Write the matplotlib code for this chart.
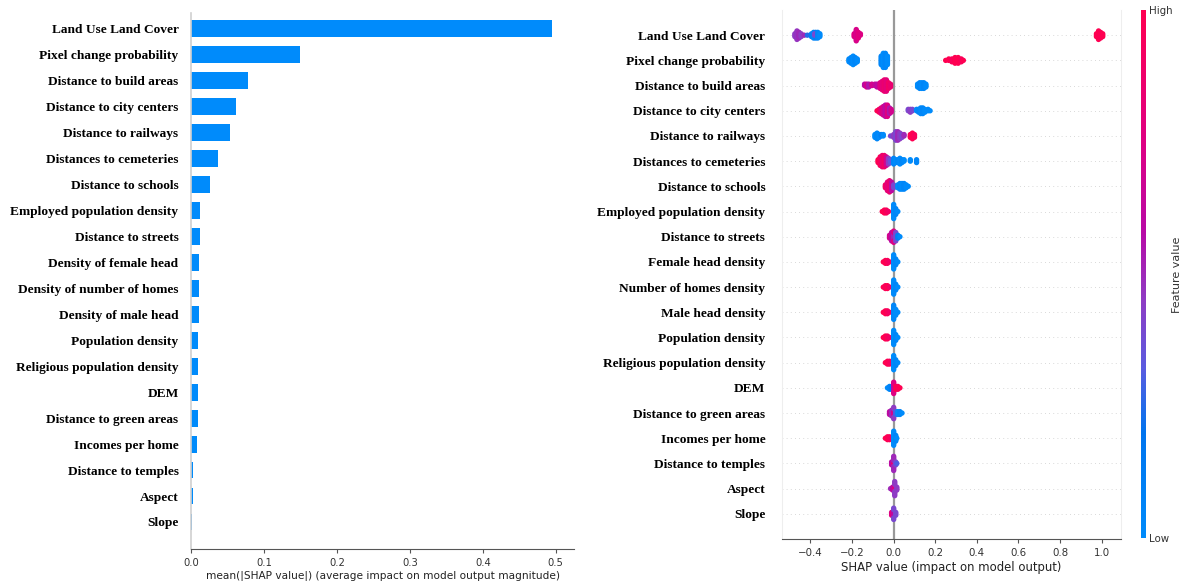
import matplotlib
matplotlib.use("Agg")
import matplotlib.pyplot as plt
import numpy as np
from matplotlib.colors import LinearSegmentedColormap
from matplotlib.cm import ScalarMappable

# ---- global importance (mean |SHAP|), top to bottom ----
bar_labels = [
    "Land Use Land Cover", "Pixel change probability", "Distance to build areas",
    "Distance to city centers", "Distance to railways", "Distances to cemeteries",
    "Distance to schools", "Employed population density", "Distance to streets",
    "Density of female head", "Density of number of homes", "Density of male head",
    "Population density", "Religious population density", "DEM",
    "Distance to green areas", "Incomes per home", "Distance to temples",
    "Aspect", "Slope",
]
mean_abs_shap = [0.495, 0.149, 0.078, 0.062, 0.054, 0.037, 0.026, 0.013, 0.013,
                 0.011, 0.011, 0.011, 0.010, 0.010, 0.0095, 0.009, 0.008,
                 0.003, 0.003, 0.002]

swarm_labels = [
    "Land Use Land Cover", "Pixel change probability", "Distance to build areas",
    "Distance to city centers", "Distance to railways", "Distances to cemeteries",
    "Distance to schools", "Employed population density", "Distance to streets",
    "Female head density", "Number of homes density", "Male head density",
    "Population density", "Religious population density", "DEM",
    "Distance to green areas", "Incomes per home", "Distance to temples",
    "Aspect", "Slope",
]

# ---- per-feature SHAP samples: (shap value, scaled feature value, n samples) ----
lulc_pts = [(-0.475, .45, 3), (-0.465, .47, 7), (-0.455, .5, 5), (-0.445, .45, 3),
            (-0.43, .5, 1), (-0.415, .25, 1), (-0.395, .1, 3), (-0.385, .05, 5),
            (-0.375, .1, 5), (-0.38, .4, 2), (-0.365, .05, 5), (-0.355, 0, 3),
            (-0.19, .75, 3), (-0.18, .72, 9), (-0.17, .78, 5), (-0.16, .75, 2),
            (0.975, 1, 3), (0.985, 1, 7), (0.995, .98, 5), (1.005, 1, 3)]
pixel_pts = [(-0.215, 0, 3), (-0.205, .05, 5), (-0.195, 0, 7), (-0.185, .05, 5),
             (-0.175, 0, 3), (-0.06, .05, 7), (-0.05, 0, 11), (-0.04, .05, 11),
             (-0.03, 0, 7), (0.25, 1, 1), (0.265, 1, 2), (0.28, .95, 3),
             (0.295, 1, 5), (0.31, 1, 5), (0.325, .95, 3), (0.335, 1, 1)]
build_pts = [(-0.14, .6, 2), (-0.13, .7, 3), (-0.12, .55, 3), (-0.105, .7, 2),
             (-0.09, .65, 2), (-0.08, .6, 3), (-0.065, .75, 5), (-0.055, .8, 7),
             (-0.045, .85, 9), (-0.035, .8, 9), (-0.025, .9, 5), (-0.015, .85, 3),
             (0.115, 0, 3), (0.125, .05, 5), (0.135, 0, 5), (0.145, .05, 5),
             (0.155, 0, 3)]
city_pts = [(-0.08, 1, 1), (-0.07, .95, 3), (-0.06, .8, 5), (-0.05, .7, 7),
            (-0.04, .6, 9), (-0.03, .75, 9), (-0.02, .55, 5), (-0.012, .7, 3),
            (0.07, .4, 2), (0.08, .45, 3), (0.09, .4, 2), (0.11, 0, 2),
            (0.12, .05, 3), (0.13, 0, 5), (0.14, .05, 5), (0.15, 0, 3),
            (0.165, 0, 2), (0.175, 0, 1)]
rail_pts = [(-0.09, 0, 3), (-0.08, .05, 5), (-0.07, 0, 3), (-0.06, .1, 2),
            (-0.05, 0, 2), (-0.015, .4, 1), (0.0, .45, 3), (0.01, .4, 7),
            (0.02, .5, 7), (0.03, .45, 5), (0.04, .4, 3), (0.05, .5, 2),
            (0.08, 1, 3), (0.09, 1, 5), (0.10, .95, 3)]
cemetery_pts = [(-0.075, 1, 3), (-0.065, .95, 7), (-0.055, .85, 9), (-0.045, .9, 9),
                (-0.035, .7, 7), (-0.025, .45, 5), (-0.015, .35, 3), (0.0, .05, 5),
                (0.01, 0, 3), (0.02, .05, 3), (0.03, 0, 5), (0.04, .05, 3),
                (0.05, 0, 2), (0.08, 0, 2), (0.11, .05, 3)]
school_pts = [(-0.04, .9, 3), (-0.03, .8, 7), (-0.02, .85, 9), (-0.01, .6, 7),
              (0.0, .4, 3), (0.02, 0, 3), (0.03, .05, 5), (0.04, 0, 5),
              (0.05, .05, 5), (0.06, 0, 3), (0.07, 0, 1)]
employed_pts = [(-0.055, 1, 1), (-0.045, 1, 3), (-0.035, .95, 3), (-0.025, .9, 1),
                (0.0, 0, 11), (0.01, .05, 5), (0.02, 0, 1)]
street_pts = [(-0.02, .7, 3), (-0.01, .6, 7), (0.0, .5, 5), (0.0, .75, 4),
              (0.01, .4, 7), (0.02, .1, 3), (0.03, 0, 1)]
female_pts = [(-0.05, 1, 1), (-0.04, 1, 3), (-0.03, .95, 3), (-0.02, .9, 1),
              (0.0, 0, 11), (0.01, .05, 5), (0.02, 0, 1)]
homes_pts = [(-0.05, 1, 1), (-0.04, .95, 3), (-0.03, 1, 3), (-0.02, .9, 1),
             (0.0, 0, 11), (0.01, .05, 5), (0.02, 0, 1)]
male_pts = [(-0.05, 1, 1), (-0.04, 1, 3), (-0.03, .95, 3), (-0.02, .9, 1),
            (0.0, .05, 11), (0.01, 0, 5), (0.02, 0, 1)]
population_pts = [(-0.05, 1, 1), (-0.04, 1, 3), (-0.03, .95, 3), (-0.02, .9, 1),
                  (0.0, 0, 11), (0.01, .05, 5), (0.02, 0, 1)]
religious_pts = [(-0.04, 1, 1), (-0.03, 1, 3), (-0.02, .95, 3), (-0.01, .9, 1),
                 (0.0, 0, 11), (0.01, .05, 5), (0.02, 0, 1)]
dem_pts = [(-0.03, 0, 1), (-0.02, .05, 3), (-0.01, .1, 3), (0.0, .6, 5),
           (0.0, .75, 4), (0.01, 1, 3), (0.02, .95, 3), (0.03, 1, 1)]
green_pts = [(-0.02, .6, 3), (-0.01, .5, 5), (0.0, .7, 5), (0.0, .45, 4),
             (0.01, .3, 3), (0.02, 0, 3), (0.03, .05, 3), (0.04, 0, 1)]
income_pts = [(-0.04, 1, 1), (-0.03, 1, 3), (-0.02, .95, 3), (-0.01, .9, 1),
              (0.0, 0, 11), (0.01, .05, 5), (0.015, 0, 1)]
temple_pts = [(-0.01, .6, 3), (0.0, .85, 3), (0.0, .5, 8), (0.01, .4, 3),
              (0.015, .3, 1)]
aspect_pts = [(-0.015, .5, 1), (-0.005, .6, 3), (0.005, .75, 4), (0.005, .45, 7),
              (0.015, .45, 3)]
slope_pts = [(-0.01, .75, 3), (0.0, .6, 5), (0.0, .4, 4), (0.01, .4, 3)]

swarm_rows = [lulc_pts, pixel_pts, build_pts, city_pts, rail_pts, cemetery_pts,
              school_pts, employed_pts, street_pts, female_pts, homes_pts, male_pts,
              population_pts, religious_pts, dem_pts, green_pts, income_pts,
              temple_pts, aspect_pts, slope_pts]

SHAP_BLUE = "#008bfb"
red_blue = LinearSegmentedColormap.from_list(
    "red_blue",
    [(0.0, "#008bfb"), (0.2, "#0074ee"), (0.32, "#5a5ce0"), (0.45, "#8e3cc4"),
     (0.58, "#b80aa6"), (0.75, "#de0083"), (1.0, "#ff0051")])

label_font = dict(family="Liberation Serif", weight="bold", size=9.6)


def swarm_offsets(xs, step=0.005, dy=0.056):
    """Stack points sharing an x bin alternately above/below the row."""
    bins = np.round(np.asarray(xs) / step).astype(int)
    out = np.zeros(len(xs))
    seen = {}
    for i, b in enumerate(bins):
        k = seen.get(b, 0)
        seen[b] = k + 1
        out[i] = ((k + 1) // 2) * (1 if k % 2 else -1) * dy
    return out


fig = plt.figure(figsize=(11.82, 5.81), dpi=100)

# ---- left: bar summary ----
ax1 = fig.add_axes([191 / 1182, 32 / 581, 383 / 1182, 536 / 581])
n = len(bar_labels)
ypos = np.arange(n)[::-1]
ax1.barh(ypos, mean_abs_shap, height=0.65, color=SHAP_BLUE, align="center")
ax1.set_xlim(0, 0.525)
ax1.set_ylim(-1.04, 19.6)
ax1.set_yticks(ypos)
ax1.set_yticklabels(bar_labels, **label_font)
ax1.tick_params(axis="y", length=0, pad=9)
ax1.set_xticks([0, 0.1, 0.2, 0.3, 0.4, 0.5])
ax1.tick_params(axis="x", labelsize=7.2, labelcolor="#333333", color="#555555",
                length=3, width=0.8)
ax1.set_xlabel("mean(|SHAP value|) (average impact on model output magnitude)",
               fontsize=7.6, color="#222222", labelpad=2)
for s in ("top", "right"):
    ax1.spines[s].set_visible(False)
ax1.spines["left"].set_color("#d0d0d0")
ax1.spines["left"].set_linewidth(1.2)
ax1.spines["bottom"].set_color("#555555")

# ---- right: beeswarm summary ----
ax2 = fig.add_axes([782 / 1182, 42 / 581, 339 / 1182, 529 / 581])
for i, pts in enumerate(swarm_rows):
    row = n - 1 - i
    xs = np.repeat([p[0] for p in pts], [p[2] for p in pts])
    fv = np.repeat([p[1] for p in pts], [p[2] for p in pts])
    ys = row + swarm_offsets(xs)
    ax2.axhline(row, color="#cccccc", lw=0.6, dashes=(1, 4), zorder=-1)
    ax2.scatter(xs, ys, c=fv, cmap=red_blue, vmin=0, vmax=1, s=15,
                linewidths=0, zorder=3)
ax2.axvline(0, color="#999999", lw=1.6, zorder=1)
ax2.set_xlim(-0.537, 1.093)
ax2.set_ylim(-1, 20)
ax2.set_yticks(ypos)
ax2.set_yticklabels(swarm_labels, **label_font)
ax2.tick_params(axis="y", length=0, pad=12)
ax2.set_xticks([-0.4, -0.2, 0.0, 0.2, 0.4, 0.6, 0.8, 1.0])
ax2.tick_params(axis="x", labelsize=7.4, labelcolor="#333333", color="#555555",
                length=3, width=0.8)
ax2.set_xlabel("SHAP value (impact on model output)", fontsize=8.4,
               color="#222222", labelpad=2)
ax2.spines["top"].set_visible(False)
for s in ("left", "right"):
    ax2.spines[s].set_color("#eeeeee")
    ax2.spines[s].set_linewidth(0.8)
ax2.spines["bottom"].set_color("#555555")

# colour bar for feature value
cax = fig.add_axes([1141 / 1182, 43 / 581, 5 / 1182, 528 / 581])
sm = ScalarMappable(cmap=red_blue)
sm.set_clim(0, 1)
cb = fig.colorbar(sm, cax=cax, ticks=[0, 1])
cb.set_ticklabels(["Low", "High"])
cb.outline.set_visible(False)
cax.tick_params(length=0, labelsize=7.4, pad=2, labelcolor="#333333")
fig.text(1177 / 1182, 1 - 275 / 581, "Feature value", rotation=90,
         ha="center", va="center", fontsize=8, color="#333333")

fig.savefig("out.png", dpi=100)
